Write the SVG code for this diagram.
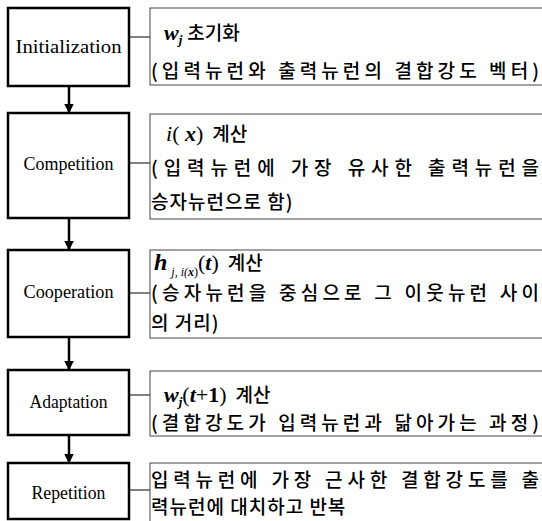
<svg xmlns="http://www.w3.org/2000/svg" width="542" height="521" viewBox="0 0 542 521">
<style>
.box{fill:#fff;stroke:#000;stroke-width:2.5}
.tbox{fill:#fff;stroke:#444;stroke-width:1}
.lbl{font-family:"Liberation Serif",serif;font-size:18px;text-anchor:middle;fill:#000}
.kr{font-family:"Noto Sans CJK KR","Noto Sans",sans-serif;font-size:19px;font-weight:500;fill:#000}
.s{font-family:"Liberation Serif",serif;fill:#000}
.m{font-family:"Liberation Serif",serif;font-style:italic;font-weight:bold;fill:#000}
.conn{stroke:#000;stroke-width:1;fill:none}
.flow{stroke:#000;stroke-width:2.5;fill:none}
</style>
<defs>
<marker id="ah" markerWidth="4" markerHeight="4" refX="3.4" refY="2" orient="auto" markerUnits="strokeWidth">
<path d="M0,0 L4,2 L0,4 z" fill="#000"/>
</marker>
</defs>
<g id="connectors">
<line class="flow" x1="69" y1="86" x2="69" y2="112" marker-end="url(#ah)"/>
<line class="flow" x1="69" y1="218" x2="69" y2="249" marker-end="url(#ah)"/>
<line class="flow" x1="69" y1="337" x2="69" y2="369" marker-end="url(#ah)"/>
<line class="flow" x1="69" y1="435" x2="69" y2="462" marker-end="url(#ah)"/>
<path class="conn" d="M129,37 H150"/>
<path class="conn" d="M129,163 H150"/>
<path class="conn" d="M129,293 H150"/>
<path class="conn" d="M129,395 H150"/>
<path class="conn" d="M129,490 H150"/>
</g>
<g id="n-init">
<rect class="box" x="8" y="8" width="121" height="78"/>
<text class="lbl" font-family="Liberation Serif, serif" x="68.5" y="53" textLength="106" lengthAdjust="spacingAndGlyphs">Initialization</text>
</g>
<g id="d-init">
<rect class="tbox" x="150" y="8" width="400" height="77"/>
<text x="164" y="40"><tspan class="m" font-size="22">w</tspan><tspan class="m" font-size="13" dy="4">j</tspan><tspan class="kr" dy="-4" dx="5">초기화</tspan></text>
<text class="kr" x="151" y="78" textLength="388" lengthAdjust="spacing">(입력뉴런와 출력뉴런의 결합강도 벡터)</text>
</g>
<g id="n-comp">
<rect class="box" x="8" y="113" width="121" height="105"/>
<text class="lbl" font-family="Liberation Serif, serif" x="68.5" y="170" textLength="90" lengthAdjust="spacingAndGlyphs">Competition</text>
</g>
<g id="d-comp">
<rect class="tbox" x="150" y="114" width="400" height="105"/>
<text x="166" y="141"><tspan class="s" font-style="italic" font-size="22">i</tspan><tspan class="s" font-size="22">( </tspan><tspan class="m" font-size="22">x</tspan><tspan class="s" font-size="22">)</tspan><tspan class="kr" dx="9">계산</tspan></text>
<text class="kr" x="151" y="175" textLength="388" lengthAdjust="spacing">(입력뉴런에  가장  유사한  출력뉴런을</text>
<text class="kr" x="151" y="209" letter-spacing="1">승자뉴런으로 함)</text>
</g>
<g id="n-coop">
<rect class="box" x="8" y="250" width="121" height="87"/>
<text class="lbl" font-family="Liberation Serif, serif" x="68.5" y="298" textLength="90" lengthAdjust="spacingAndGlyphs">Cooperation</text>
</g>
<g id="d-coop">
<rect class="tbox" x="150" y="250" width="400" height="88"/>
<text x="154" y="270"><tspan class="m" font-size="24">h</tspan><tspan class="s" font-style="italic" font-size="12" dy="6" dx="4">j, i(</tspan><tspan class="m" font-size="12">x</tspan><tspan class="s" font-size="12">)</tspan><tspan class="s" font-size="22" dy="-6">(</tspan><tspan class="m" font-size="22">t</tspan><tspan class="s" font-size="22">)</tspan><tspan class="kr" dx="9">계산</tspan></text>
<text class="kr" x="151" y="300" textLength="388" lengthAdjust="spacing">(승자뉴런을 중심으로 그 이웃뉴런 사이</text>
<text class="kr" x="151" y="330" letter-spacing="1">의 거리)</text>
</g>
<g id="n-adapt">
<rect class="box" x="8" y="370" width="121" height="65"/>
<text class="lbl" font-family="Liberation Serif, serif" x="68.5" y="408" textLength="78" lengthAdjust="spacingAndGlyphs">Adaptation</text>
</g>
<g id="d-adapt">
<rect class="tbox" x="150" y="371" width="400" height="65"/>
<text x="164" y="402"><tspan class="m" font-size="22">w</tspan><tspan class="m" font-size="13" dy="4">j</tspan><tspan class="s" font-size="22" dy="-4">(</tspan><tspan class="m" font-size="22">t</tspan><tspan class="s" font-size="22">+</tspan><tspan class="s" font-weight="bold" font-size="22">1</tspan><tspan class="s" font-size="22">)</tspan><tspan class="kr" dx="9">계산</tspan></text>
<text class="kr" x="151" y="430" textLength="388" lengthAdjust="spacing">(결합강도가 입력뉴런과 닮아가는 과정)</text>
</g>
<g id="n-rep">
<rect class="box" x="8" y="463" width="121" height="56"/>
<text class="lbl" font-family="Liberation Serif, serif" x="68.5" y="499" textLength="74" lengthAdjust="spacingAndGlyphs">Repetition</text>
</g>
<g id="d-rep">
<rect class="tbox" x="150" y="463" width="400" height="70"/>
<text class="kr" x="151" y="487" textLength="388" lengthAdjust="spacing">입력뉴런에  가장  근사한  결합강도를  출</text>
<text class="kr" x="151" y="514" letter-spacing="1">력뉴런에 대치하고 반복</text>
</g>
</svg>
